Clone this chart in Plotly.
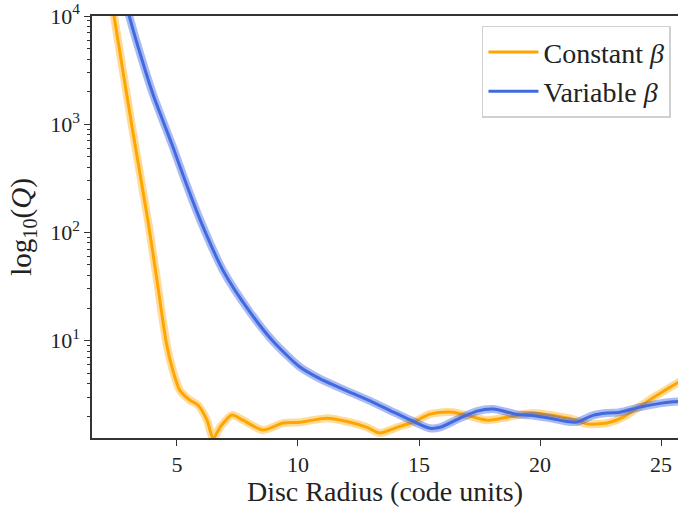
import plotly.graph_objects as go

# Constant beta (orange)
const_x = [2.2, 2.40, 3.13, 3.81, 4.16, 4.57, 4.83, 5.12, 5.54, 5.87,
           6.24, 6.5, 6.78, 7.27, 7.73, 8.55, 9.38, 10.08, 11.2, 12.15, 12.85, 13.39, 14.09,
           14.75, 15.45, 15.99, 16.4, 16.98, 17.81, 18.64, 19.71, 20.95, 21.36, 21.94, 22.77,
           23.43, 24.13, 24.83, 25.7, 25.9]
const_y = [1.9e4, 1.0e4, 986, 125, 38, 9.3, 5.3, 3.47, 2.81, 2.53,
           1.84, 1.25, 1.58, 2.05, 1.84, 1.49, 1.73, 1.76, 1.92, 1.76, 1.58, 1.40, 1.58,
           1.76, 2.09, 2.18, 2.18, 2.04, 1.84, 1.96, 2.14, 1.96, 1.88, 1.70, 1.73,
           1.96, 2.47, 3.13, 4.1, 4.4]

# Variable beta (blue)
var_x = [2.85, 3.03, 3.54, 4.02, 4.43, 4.85, 5.3, 5.95, 6.91, 8.02, 8.98, 10.08, 10.9, 11.46,
         12.02, 13.1, 14.09, 14.75, 15.45, 15.87, 16.69, 17.4, 18.06, 19.05, 19.59, 20.41, 21.1,
         21.53, 22.19, 22.77, 23.3, 24.13, 24.96, 25.5, 25.9]
var_y = [1.5e4, 1.0e4, 4050, 1860, 1060, 603, 316, 132, 44.2, 18.3, 9.8, 5.7, 4.45, 3.89,
         3.43, 2.69, 2.11, 1.80, 1.55, 1.58, 1.92, 2.23, 2.33, 2.08, 2.04, 1.92, 1.79,
         1.77, 2.04, 2.14, 2.18, 2.43, 2.63, 2.72, 2.76]

labels = ["Constant <i>β</i>", "Variable <i>β</i>"]
colors = ["#FFA500", "#4169E1"]
glows = ["rgba(255,165,0,0.4)", "rgba(65,105,225,0.45)"]

y_major = [10, 100, 1000, 10000]
y_major_text = ["10<sup>1</sup>", "10<sup>2</sup>", "10<sup>3</sup>", "10<sup>4</sup>"]
y_minor = [m * 10 ** k for k in range(0, 4) for m in range(2, 10)]
x_ticks = [5, 10, 15, 20, 25]

FONT = "Liberation Serif"

fig = go.Figure()
for i, (xs, ys, lab, c, g) in enumerate([(const_x, const_y, labels[0], colors[0], glows[0]),
                                         (var_x, var_y, labels[1], colors[1], glows[1])]):
    fig.add_trace(go.Scatter(x=xs, y=ys, mode="lines", line=dict(color=g, width=8, shape="spline", smoothing=0.7),
                             showlegend=False, hoverinfo="skip", legendgroup=f"g{i}"))
    fig.add_trace(go.Scatter(x=xs, y=ys, mode="lines", line=dict(color=c, width=3, shape="spline", smoothing=0.7),
                             name=lab, legendgroup=f"g{i}"))

fig.update_layout(
    width=678, height=507,
    margin=dict(l=92, r=0, t=14, b=69),
    plot_bgcolor="white", paper_bgcolor="white",
    font=dict(family=FONT, size=22, color="#222222"),
    legend=dict(x=0.988, y=0.977, xanchor="right", yanchor="top",
                bgcolor="rgba(255,255,255,0.85)", bordercolor="#D0D0D0", borderwidth=1.5,
                font=dict(family=FONT, size=28, color="#222222"),
                itemwidth=50, tracegroupgap=0, traceorder="grouped"),
    xaxis=dict(range=[1.49, 25.70], tickvals=x_ticks, ticks="outside", ticklen=6, tickwidth=1.2,
               tickcolor="#333333", showline=True, linecolor="#333333", linewidth=1.5, mirror=True,
               showgrid=False, zeroline=False,
               title=dict(text="Disc Radius (code units)", font=dict(size=28), standoff=6),
               tickfont=dict(size=22)),
    yaxis=dict(type="log", range=[0.1, 4], tickvals=y_major, ticktext=y_major_text,
               ticks="outside", ticklen=6, tickwidth=1.2, tickcolor="#333333",
               minor=dict(tickvals=y_minor, ticks="outside", ticklen=3.5, tickwidth=1, tickcolor="#333333"),
               showline=True, linecolor="#333333", linewidth=1.5, showgrid=False, zeroline=False,
               ticklabeloverflow="allow",
               title=dict(text="log<sub>10</sub>(<i>Q</i>)", font=dict(size=29), standoff=10),
               tickfont=dict(size=22)),
)

fig.write_html("out.html")
